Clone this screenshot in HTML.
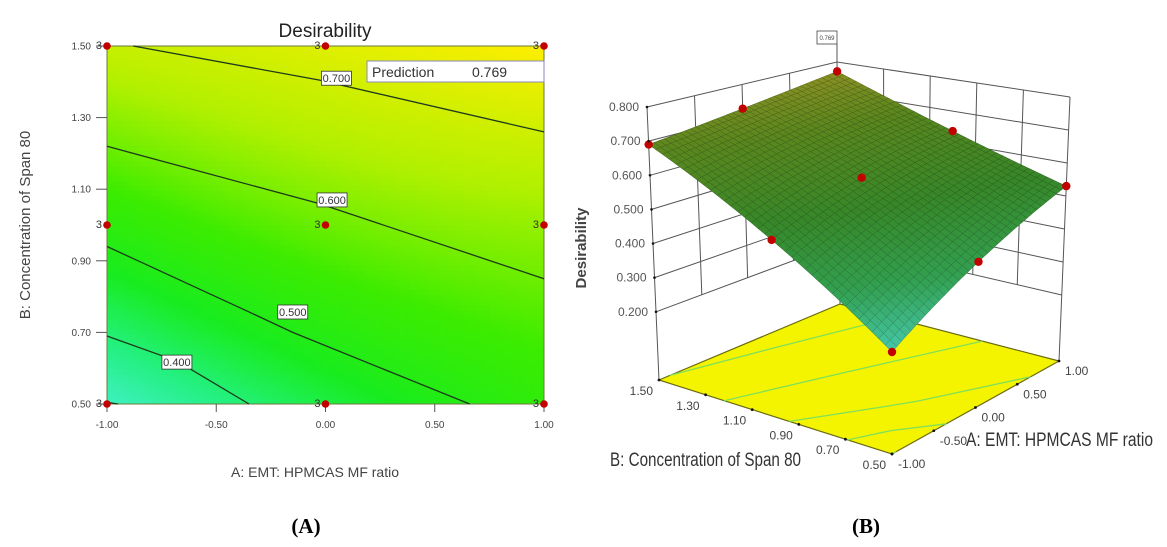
<!DOCTYPE html>
<html><head><meta charset="utf-8"><style>
html,body{margin:0;padding:0;background:#fff;}
svg{display:block;font-family:"Liberation Sans",sans-serif;}
</style></head><body>
<svg id="chart" width="1167" height="547" viewBox="0 0 1167 547" xmlns="http://www.w3.org/2000/svg">
<g id="left"></g>
<g id="right"></g>
<text x="306" y="533" font-family="Liberation Serif, serif" font-weight="bold" font-size="21" text-anchor="middle">(A)</text>
<text x="866" y="533" font-family="Liberation Serif, serif" font-weight="bold" font-size="21" text-anchor="middle">(B)</text>
</svg>
<script>
// ---- data ----
const aNodes = [-1, 0, 1];
const bNodes = [0.5, 1.0, 1.5];
const dRowB050 = [0.30, 0.435, 0.53];
const dRowB100 = [0.52, 0.60, 0.637];
const dRowB150 = [0.69, 0.725, 0.769];
const xTicks = [-1, -0.5, 0, 0.5, 1];
const xTickLabels = ["-1.00", "-0.50", "0.00", "0.50", "1.00"];
const yTicks = [0.5, 0.7, 0.9, 1.1, 1.3, 1.5];
const yTickLabels = ["0.50", "0.70", "0.90", "1.10", "1.30", "1.50"];
const zTicks = [0.2, 0.3, 0.4, 0.5, 0.6, 0.7, 0.8];
const zTickLabels = ["0.200", "0.300", "0.400", "0.500", "0.600", "0.700", "0.800"];
const contourLevels = ["0.700", "0.600", "0.500", "0.400", "0.300"];
const contour700 = [[-0.88, 1.5], [-0.03, 1.405], [1, 1.26]];
const contour600 = [[-1, 1.22], [-0.03, 1.06], [1, 0.85]];
const contour500 = [[-1, 0.94], [-0.36, 0.76], [-0.15, 0.70], [0.66, 0.5]];
const contour400 = [[-1, 0.69], [-0.68, 0.62], [-0.35, 0.5]];
const contour300 = [[-1, 0.505], [-0.95, 0.5]];
const contourLabelPos = [[0.05, 1.41], [0.03, 1.07], [-0.15, 0.757], [-0.68, 0.617], null];
const designA = [-1, 0, 1, -1, 0, 1, -1, 0, 1];
const designB = [0.5, 0.5, 0.5, 1.0, 1.0, 1.0, 1.5, 1.5, 1.5];
const designRuns = [3, 3, 3, 3, 3, 3, 3, 3, 3];
const predictionValue = "0.769";

const NS = "http://www.w3.org/2000/svg";
function el(tag, attrs, parent, txt) {
  const e = document.createElementNS(NS, tag);
  for (const k in attrs) e.setAttribute(k, attrs[k]);
  if (txt !== undefined) e.textContent = txt;
  parent.appendChild(e);
  return e;
}
const grid = [dRowB050, dRowB100, dRowB150];
function lag(t) { return [t * (t - 1) / 2, 1 - t * t, t * (t + 1) / 2]; }
function model(a, b) {
  const la = lag((a - aNodes[1]) / (aNodes[2] - aNodes[1]));
  const lb = lag((b - bNodes[1]) / (bNodes[2] - bNodes[1]));
  let s = 0;
  for (let i = 0; i < 3; i++) for (let j = 0; j < 3; j++) s += lb[i] * la[j] * grid[i][j];
  return s;
}
function ramp(v, stops) {
  if (v <= stops[0][0]) return stops[0][1];
  for (let i = 1; i < stops.length; i++) {
    if (v <= stops[i][0]) {
      const t = (v - stops[i - 1][0]) / (stops[i][0] - stops[i - 1][0]);
      const c0 = stops[i - 1][1], c1 = stops[i][1];
      return c0.map((c, k) => Math.round(c + (c1[k] - c) * t));
    }
  }
  return stops[stops.length - 1][1];
}
const cmap2d = [[0.28, [70, 240, 210]], [0.38, [36, 240, 130]], [0.47, [24, 236, 30]], [0.56, [60, 236, 0]], [0.66, [176, 240, 0]], [0.77, [255, 238, 0]]];
const cmap3d = [[0.30, [70, 200, 170]], [0.42, [50, 160, 80]], [0.55, [55, 135, 40]], [0.68, [90, 135, 30]], [0.77, [140, 145, 35]]];
const rgb = c => "rgb(" + c.join(",") + ")";

// ---- left contour plot ----
const LG = document.getElementById("left");
const X = a => 107 + (a + 1) / 2 * 437;
const Y = b => 404 - (b - 0.5) * 358;
const heat = el("g", {"shape-rendering": "crispEdges"}, LG);


const NX = 88, NY = 72;
for (let i = 0; i < NX; i++) for (let j = 0; j < NY; j++) {
  const a0 = -1 + 2 * i / NX, a1 = -1 + 2 * (i + 1) / NX;
  const b0 = 0.5 + j / NY, b1 = 0.5 + (j + 1) / NY;
  const v = model((a0 + a1) / 2, (b0 + b1) / 2);
  el("rect", {x: X(a0), y: Y(b1), width: X(a1) - X(a0) + 0.6, height: Y(b0) - Y(b1) + 0.6, fill: rgb(ramp(v, cmap2d))}, heat);
}
el("rect", {x: 107, y: 46, width: 437, height: 358, fill: "none", stroke: "#6a7a3a", "stroke-width": 1}, LG);
const contours = [contour700, contour600, contour500, contour400, contour300];
contours.forEach((pts, k) => {
  const p = el("polyline", {points: pts.map(q => X(q[0]) + "," + Y(q[1])).join(" "), fill: "none", stroke: "#1d3a1d", "stroke-width": 1.3}, LG);
  
  
  const lp = contourLabelPos[k];
  if (lp) {
    const g = el("g", {}, LG);
    
    
    el("rect", {x: X(lp[0]) - 15, y: Y(lp[1]) - 7, width: 30, height: 14, fill: "#fff", stroke: "#333", "stroke-width": 0.8}, g);
    el("text", {x: X(lp[0]), y: Y(lp[1]) + 4, "font-size": 11, "text-anchor": "middle", fill: "#333"}, g, contourLevels[k]);
  }
});
xTicks.forEach((t, i) => {
  const g = el("g", {}, LG);
  
  
  el("line", {x1: X(t), y1: 404, x2: X(t), y2: 412, stroke: "#555"}, g);
  el("text", {x: X(t), y: 428, "font-size": 10, "text-anchor": "middle", fill: "#444"}, g, xTickLabels[i]);
});
yTicks.forEach((t, i) => {
  const g = el("g", {}, LG);
  
  
  el("line", {x1: 96, y1: Y(t), x2: 107, y2: Y(t), stroke: "#555"}, g);
  el("text", {x: 91, y: Y(t) + 3.5, "font-size": 10, "text-anchor": "end", fill: "#444"}, g, yTickLabels[i]);
});
designA.forEach((a, i) => {
  const g = el("g", {}, LG);
  
  
  el("text", {x: X(a) - 5, y: Y(designB[i]) + 3, "font-size": 11, "text-anchor": "end", fill: "#333"}, g, String(designRuns[i]));
  el("circle", {cx: X(a), cy: Y(designB[i]), r: 3.8, fill: "#c30000"}, g);
});
const pb = el("g", {}, LG);


el("rect", {x: 367, y: 61, width: 177, height: 21, fill: "#fff", stroke: "#8a8ac0", "stroke-width": 1}, pb);
el("text", {x: 372, y: 77, "font-size": 14, fill: "#333"}, pb, "Prediction");
el("text", {x: 472, y: 77, "font-size": 14, fill: "#333"}, pb, predictionValue);
const tt = el("text", {x: 325, y: 37, "font-size": 19, "text-anchor": "middle", fill: "#222"}, LG, "Desirability");


const xl = el("text", {x: 315, y: 477, "font-size": 14, "text-anchor": "middle", fill: "#444"}, LG, "A: EMT: HPMCAS MF ratio");


const yl = el("text", {x: 0, y: 0, "font-size": 15, "text-anchor": "middle", fill: "#444", transform: "translate(30,225) rotate(-90)"}, LG, "B: Concentration of Span 80");



// ---- right 3D surface ----
const RG = document.getElementById("right");
const FC = {p00: [892, 454], p10: [1059, 361], p01: [659, 380], p11: [840, 304]};
const TC = {p00: [892, 182], p10: [1070, 97], p01: [647, 107], p11: [837, 62]};
function bil(C, u, v) {
  return [0, 1].map(k => C.p00[k] * (1 - u) * (1 - v) + C.p10[k] * u * (1 - v) + C.p01[k] * (1 - u) * v + C.p11[k] * u * v);
}
function P(a, b, z) {
  const u = (a + 1) / 2, v = b - 0.5;
  const f = bil(FC, u, v), t = bil(TC, u, v), w = z / 0.8;
  return [f[0] + (t[0] - f[0]) * w, f[1] + (t[1] - f[1]) * w];
}
const pt = q => q[0].toFixed(1) + "," + q[1].toFixed(1);
const walls = el("g", {stroke: "#555", "stroke-width": 1, fill: "none"}, RG);


zTicks.forEach(z => {
  el("polyline", {points: [P(-1, 1.5, z), P(1, 1.5, z), P(1, 0.5, z)].map(pt).join(" ")}, walls);
});
[-0.5, 0, 0.5].forEach(a => el("line", {x1: P(a, 1.5, 0.2)[0], y1: P(a, 1.5, 0.2)[1], x2: P(a, 1.5, 0.8)[0], y2: P(a, 1.5, 0.8)[1]}, walls));
[0.7, 0.9, 1.1, 1.3].forEach(b => el("line", {x1: P(1, b, 0.2)[0], y1: P(1, b, 0.2)[1], x2: P(1, b, 0.8)[0], y2: P(1, b, 0.8)[1]}, walls));
[[-1, 1.5], [1, 1.5], [1, 0.5]].forEach(c => el("line", {x1: P(c[0], c[1], 0)[0], y1: P(c[0], c[1], 0)[1], x2: P(c[0], c[1], 0.8)[0], y2: P(c[0], c[1], 0.8)[1]}, walls));
const floorG = el("g", {}, RG);


el("polygon", {points: [P(-1, 0.5, 0), P(1, 0.5, 0), P(1, 1.5, 0), P(-1, 1.5, 0)].map(pt).join(" "), fill: "#f4f400", stroke: "#6a6a10", "stroke-width": 1.2}, floorG);
contours.forEach(pts => {
  el("polyline", {points: pts.map(q => pt(P(q[0], q[1], 0))).join(" "), fill: "none", stroke: "#7ee05a", "stroke-width": 1.3}, floorG);
});
const surf = el("g", {"stroke-width": 0.5}, RG);


const NS3 = 36, cells = [];
for (let i = 0; i < NS3; i++) for (let j = 0; j < NS3; j++) {
  const a0 = -1 + 2 * i / NS3, a1 = -1 + 2 * (i + 1) / NS3, b0 = 0.5 + j / NS3, b1 = 0.5 + (j + 1) / NS3;
  cells.push([a0, a1, b0, b1, (a0 + a1) / 2 + 2 * ((b0 + b1) / 2 - 0.5)]);
}
cells.sort((p, q) => q[4] - p[4]);
cells.forEach(c => {
  const [a0, a1, b0, b1] = c;
  const v = model((a0 + a1) / 2, (b0 + b1) / 2);
  const col = ramp(v, cmap3d);
  const dark = col.map(x => Math.round(x * 0.72));
  el("polygon", {points: [P(a0, b0, model(a0, b0)), P(a1, b0, model(a1, b0)), P(a1, b1, model(a1, b1)), P(a0, b1, model(a0, b1))].map(pt).join(" "), fill: rgb(col), stroke: rgb(dark)}, surf);
});
designA.forEach((a, i) => {
  const q = P(a, designB[i], model(a, designB[i]));
  const c = el("circle", {cx: q[0], cy: q[1], r: 4.2, fill: "#c30000"}, RG);
  
  
});
const topCorner = P(1, 1.5, 0.8);
const flag = el("g", {}, RG);


el("line", {x1: topCorner[0], y1: topCorner[1], x2: topCorner[0], y2: 44, stroke: "#555"}, flag);
el("rect", {x: topCorner[0] - 20, y: 31, width: 20, height: 13, fill: "#fff", stroke: "#444", "stroke-width": 0.8}, flag);
el("text", {x: topCorner[0] - 10, y: 40, "font-size": 6, "text-anchor": "middle", fill: "#444"}, flag, predictionValue);
zTicks.forEach((z, i) => {
  const q = P(-1, 1.5, z);
  const g = el("g", {}, RG);
  
  
  el("circle", {cx: q[0], cy: q[1], r: 1.3, fill: "#111"}, g);
  el("text", {x: q[0] - 8, y: q[1] + 4, "font-size": 12, "text-anchor": "end", fill: "#555"}, g, zTickLabels[i]);
});
yTicks.forEach((b, i) => {
  const q = P(-1, b, 0);
  const g = el("g", {}, RG);
  
  
  el("circle", {cx: q[0], cy: q[1], r: 1.4, fill: "#111"}, g);
  el("text", {x: q[0] - 6, y: q[1] + 15, "font-size": 12, "text-anchor": "end", fill: "#444"}, g, yTickLabels[i]);
});
xTicks.forEach((a, i) => {
  const q = P(a, 0.5, 0);
  const g = el("g", {}, RG);
  
  
  el("circle", {cx: q[0], cy: q[1], r: 1.4, fill: "#111"}, g);
  el("text", {x: q[0] + 6, y: q[1] + 14, "font-size": 12, "text-anchor": "start", fill: "#444"}, g, xTickLabels[i]);
});
const bt = el("text", {x: 610, y: 466, "font-size": 19, fill: "#333", textLength: 191, lengthAdjust: "spacingAndGlyphs"}, RG, "B: Concentration of Span 80");


const at = el("text", {x: 966, y: 446, "font-size": 19, fill: "#333", textLength: 187, lengthAdjust: "spacingAndGlyphs"}, RG, "A: EMT: HPMCAS MF ratio");


const zt = el("text", {x: 0, y: 0, "font-size": 15, "font-weight": "bold", "text-anchor": "middle", fill: "#444", transform: "translate(586,248) rotate(-90)"}, RG, "Desirability");


</script>
</body></html>
